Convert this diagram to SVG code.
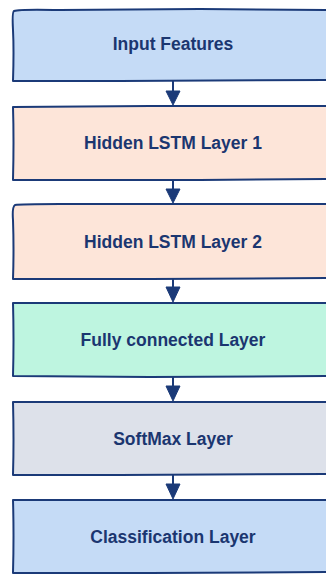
<svg xmlns="http://www.w3.org/2000/svg" width="326" height="574" viewBox="0 0 326 574">
<style>
.box{stroke:#1b3a78;stroke-width:2;stroke-linejoin:round}
.lbl{font-family:"Liberation Sans",Arial,sans-serif;font-weight:bold;font-size:17.5px;fill:#1b3670;text-anchor:middle}
.conn line{stroke:#1b3a78;stroke-width:2}
.conn path{fill:#1b3a78;stroke:#1b3a78;stroke-width:1}
</style>
<rect width="326" height="574" fill="#ffffff"/>
<g id="input-features">
<path class="box" fill="#c5dbf6" d="M14 11 Q20 9 60 10 L200 9 L334 10 L334 80 L120 81 L13 81 Q14 50 13 30 Q12 12 14 11 Z"/>
<text class="lbl" x="173" y="50">Input Features</text>
</g>
<g id="hidden-lstm-1">
<path class="box" fill="#fde5d9" d="M13 107 L150 106 L334 106 L334 179 L200 180 L13 180 Q14 140 13 107 Z"/>
<text class="lbl" x="173" y="149">Hidden LSTM Layer 1</text>
</g>
<g id="hidden-lstm-2">
<path class="box" fill="#fde5d9" d="M15 205 Q20 204 60 204 L334 204 L334 278 L150 279 L13 279 Q14 250 13 220 Q12 207 15 205 Z"/>
<text class="lbl" x="173" y="248">Hidden LSTM Layer 2</text>
</g>
<g id="fully-connected">
<path class="box" fill="#bef5e0" d="M13 303 L180 303 L334 303 L334 376 L150 377 L13 376 Q14 340 13 303 Z"/>
<text class="lbl" x="173" y="346">Fully connected Layer</text>
</g>
<g id="softmax">
<path class="box" fill="#dde1ea" d="M13 402 L200 402 L334 402 L334 474 L120 475 L13 475 Q14 440 13 402 Z"/>
<text class="lbl" x="173" y="445">SoftMax Layer</text>
</g>
<g id="classification">
<path class="box" fill="#c5dbf6" d="M13 500 L170 500 L334 500 L334 572 L150 573 L13 573 Q14 535 13 500 Z"/>
<text class="lbl" x="173" y="543">Classification Layer</text>
</g>
<g class="conn" id="connectors">
<line x1="173" y1="81" x2="173" y2="92"/><path d="M166 91 L180 91 L173 105 Z"/>
<line x1="173" y1="180" x2="173" y2="190"/><path d="M166 189 L180 189 L173 203 Z"/>
<line x1="173" y1="279" x2="173" y2="288"/><path d="M166 287 L180 287 L173 302 Z"/>
<line x1="173" y1="377" x2="173" y2="387"/><path d="M166 386 L180 386 L173 401 Z"/>
<line x1="173" y1="475" x2="173" y2="485"/><path d="M166 484 L180 484 L173 499 Z"/>
</g>
</svg>
